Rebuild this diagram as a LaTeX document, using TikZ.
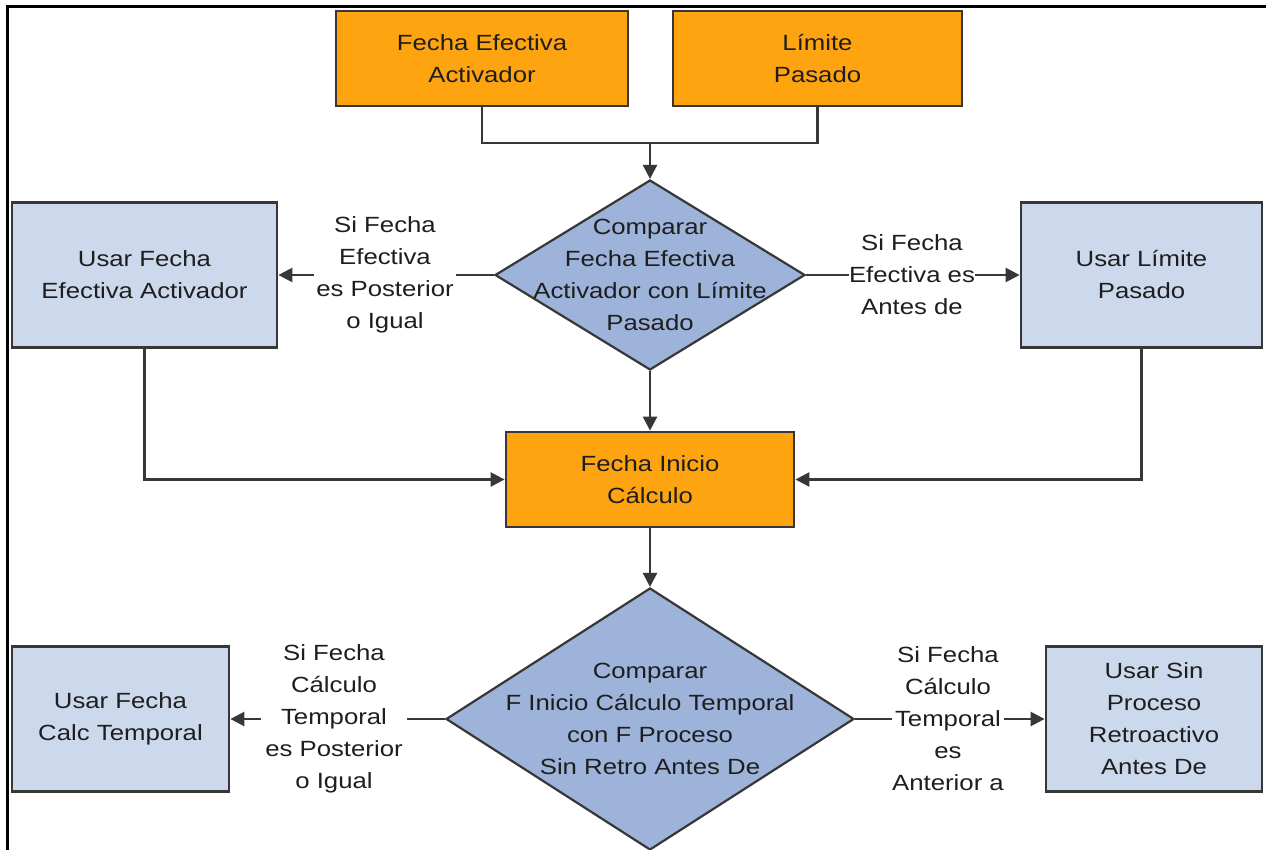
\documentclass[tikz,border=0pt]{standalone}
\usepackage{fontspec}
\setmainfont{Liberation Sans}[FakeStretch=1.17]
\usetikzlibrary{shapes.geometric,arrows.meta}
\definecolor{orangefill}{RGB}{254,164,16}
\definecolor{boxblue}{RGB}{204,217,236}
\definecolor{diablue}{RGB}{158,179,218}
\definecolor{edgegray}{RGB}{55,55,55}
\definecolor{textgray}{RGB}{30,30,30}
\begin{document}
\begin{tikzpicture}[x=1pt,y=-1pt,
  font=\fontsize{22}{32}\selectfont,
  orangebox/.style={draw=edgegray, line width=2.8pt, fill=orangefill, align=center, inner sep=0pt, text=textgray},
  bluebox/.style={draw=edgegray, line width=2.8pt, fill=boxblue, align=center, inner sep=0pt, text=textgray},
  dia/.style={diamond, draw=edgegray, line width=2.2pt, fill=diablue, inner sep=0pt},
  diatext/.style={align=center, text=textgray, inner sep=0pt},
  lbl/.style={fill=white, align=center, inner xsep=2pt, inner ysep=0pt, text=textgray},
  conn/.style={draw=edgegray, line width=2.5pt},
  arr/.style={conn, -{Triangle[length=14pt,width=14pt]}}
]
\useasboundingbox (0,0) rectangle (1266,850);
\fill[white] (0,0) rectangle (1266,850);
% frame
\draw[line width=3pt, black] (7.5,850) -- (7.5,6.5) -- (1266,6.5);

% top boxes
\node[orangebox, minimum width=292pt, minimum height=95pt] (fea) at (482,58.5) {Fecha Efectiva\\Activador};
\node[orangebox, minimum width=289pt, minimum height=95pt] (lp) at (817.5,58.5) {Límite\\Pasado};
\coordinate (j) at (650,143);

% first diamond
\node[dia, minimum width=310pt, minimum height=190pt] (d1) at (650,275) {};
\node[diatext] (d1t) at (d1.center) {Comparar\\Fecha Efectiva\\Activador con Límite\\Pasado};

% side boxes (row 1)
\node[bluebox, minimum width=265pt, minimum height=145pt] (ufea) at (144.5,275) {Usar Fecha\\Efectiva Activador};
\node[bluebox, minimum width=241pt, minimum height=145pt] (ulp) at (1141.5,275) {Usar Límite\\Pasado};

% labels row 1
\node[lbl] (l1) at (385,275) {Si Fecha\\Efectiva\\es Posterior\\o Igual};
\node[lbl, inner xsep=0pt] (r1) at (912,275) {Si Fecha\\Efectiva es\\Antes de};

% middle box
\node[orangebox, minimum width=288pt, minimum height=95pt] (fic) at (650,479.5) {Fecha Inicio\\Cálculo};

% second diamond
\node[dia, minimum width=408pt, minimum height=262pt] (d2) at (650,719) {};
\node[diatext] (d2t) at (d2.center) {Comparar\\F Inicio Cálculo Temporal\\con F Proceso\\Sin Retro Antes De};

% side boxes (row 2)
\node[bluebox, minimum width=217pt, minimum height=145pt] (ufct) at (120.5,719) {Usar Fecha\\Calc Temporal};
\node[bluebox, minimum width=216pt, minimum height=145pt] (usp) at (1154,719) {Usar Sin\\Proceso\\Retroactivo\\Antes De};

% labels row 2
\node[lbl, inner xsep=4pt] (l2) at (334,719) {Si Fecha\\Cálculo\\Temporal\\es Posterior\\o Igual};
\node[lbl, inner xsep=0pt] (r2) at (948,719) {Si Fecha\\Cálculo\\Temporal\\es\\Anterior a};

% connectors
\draw[conn] (fea.south) |- (j) -| (lp.south);
\draw[arr] (j) -- (d1.north);
\draw[conn] (d1.west) -- (l1);
\draw[arr] (l1) -- (ufea);
\draw[conn] (d1.east) -- (r1);
\draw[arr] (r1) -- (ulp);
\draw[arr] (d1.south) -- (fic.north);
\draw[arr] (ufea.south) |- (fic.west);
\draw[arr] (ulp.south) |- (fic.east);
\draw[arr] (fic.south) -- (d2.north);
\draw[conn] (d2.west) -- (l2);
\draw[arr] (l2) -- (ufct);
\draw[conn] (d2.east) -- (r2);
\draw[arr] (r2) -- (usp);
\end{tikzpicture}
\end{document}
